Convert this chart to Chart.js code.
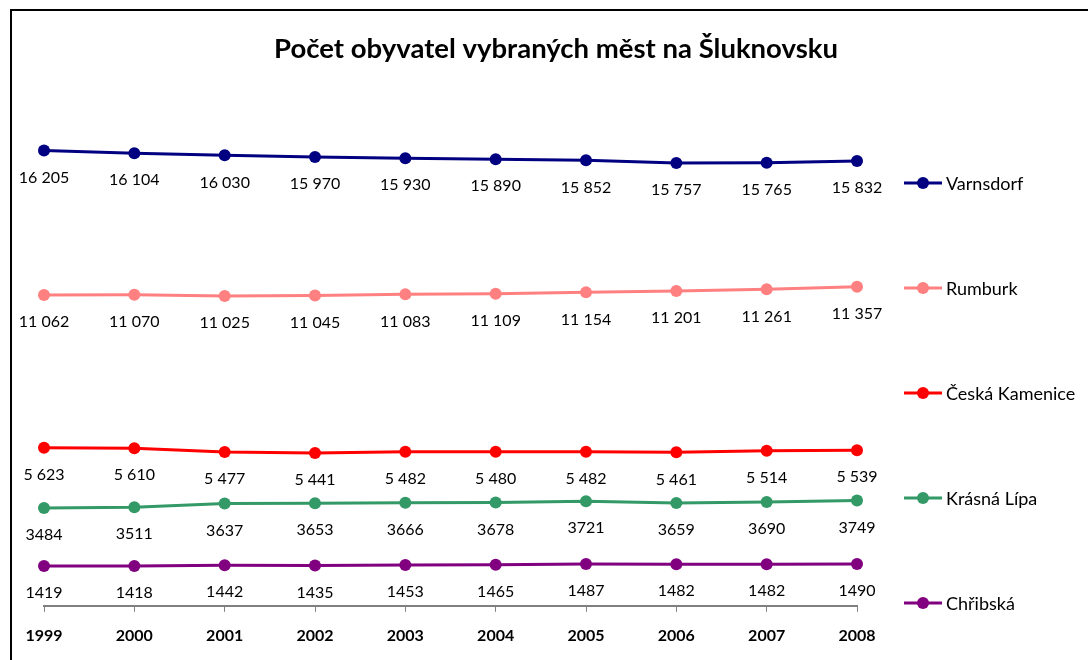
<!DOCTYPE html>
<html>
<head>
<meta charset="utf-8">
<script src="https://cdn.jsdelivr.net/npm/chart.js@4.4.0/dist/chart.umd.min.js"></script>
<style>
  html, body { margin: 0; padding: 0; background: #fff; }
  #wrap { position: relative; width: 1088px; height: 660px; }
</style>
</head>
<body>
<div id="wrap"><canvas id="chartObyvatel" width="1088" height="660"></canvas></div>
<script>
// Roky na ose x
const roky = ["1999", "2000", "2001", "2002", "2003", "2004", "2005", "2006", "2007", "2008"];

// Počty obyvatel
const varnsdorf     = [16205, 16104, 16030, 15970, 15930, 15890, 15852, 15757, 15765, 15832];
const rumburk       = [11062, 11070, 11025, 11045, 11083, 11109, 11154, 11201, 11261, 11357];
const ceskaKamenice = [5623, 5610, 5477, 5441, 5482, 5480, 5482, 5461, 5514, 5539];
const krasnaLipa    = [3484, 3511, 3637, 3653, 3666, 3678, 3721, 3659, 3690, 3749];
const chribska      = [1419, 1418, 1442, 1435, 1453, 1465, 1487, 1482, 1482, 1490];

const nazvyMest = ["Varnsdorf", "Rumburk", "Česká Kamenice", "Krásná Lípa", "Chřibská"];
const barvy = ["#000080", "#FF8080", "#FF0000", "#339966", "#800080"];
// u kterých měst jsou čísla s mezerou mezi tisíci
const sMezerou = [true, true, true, false, false];

const titulek = "Počet obyvatel vybraných měst na Šluknovsku";
const FONT = "Lato, 'Open Sans', sans-serif";

function formatuj(v, mezera) {
  if (!mezera) return String(v);
  return String(v).replace(/\B(?=(\d{3})+(?!\d))/g, " ");
}

// rámeček kolem grafu + titulek (vycentrovaný na celý rámeček, ne na plochu grafu)
const ramecek = {
  id: "ramecek",
  beforeDraw(chart) {
    const ctx = chart.ctx;
    ctx.save();
    ctx.strokeStyle = "#000";
    ctx.lineWidth = 2;
    ctx.beginPath();
    ctx.moveTo(11, 700);
    ctx.lineTo(11, 10);
    ctx.lineTo(1100, 10);
    ctx.stroke();

    ctx.font = "bold 27.5px " + FONT;
    ctx.fillStyle = "#000";
    ctx.textAlign = "center";
    ctx.textBaseline = "alphabetic";
    ctx.fillText(titulek, 556, 58);
    ctx.restore();
  }
};

// popisky hodnot pod body
const popisky = {
  id: "popisky",
  afterDatasetsDraw(chart) {
    const ctx = chart.ctx;
    ctx.save();
    ctx.font = "16px " + FONT;
    ctx.fillStyle = "#000";
    ctx.textAlign = "center";
    ctx.textBaseline = "middle";
    chart.data.datasets.forEach((ds, i) => {
      const meta = chart.getDatasetMeta(i);
      meta.data.forEach((pt, j) => {
        ctx.fillText(formatuj(ds.data[j], sMezerou[i]), pt.x, pt.y + 27);
      });
    });
    ctx.restore();
  }
};

// legenda vpravo
const legenda = {
  id: "legenda",
  afterDraw(chart) {
    const ctx = chart.ctx;
    ctx.save();
    ctx.font = "18px " + FONT;
    ctx.textBaseline = "middle";
    chart.data.datasets.forEach((ds, i) => {
      const y = 183 + i * 105;
      ctx.strokeStyle = ds.borderColor;
      ctx.lineWidth = 3;
      ctx.beginPath();
      ctx.moveTo(904, y);
      ctx.lineTo(942, y);
      ctx.stroke();
      ctx.fillStyle = ds.borderColor;
      ctx.beginPath();
      ctx.arc(923, y, 6, 0, Math.PI * 2);
      ctx.fill();
      ctx.fillStyle = "#000";
      ctx.fillText(ds.label, 946, y + 1);
    });
    ctx.restore();
  }
};

const rady = [varnsdorf, rumburk, ceskaKamenice, krasnaLipa, chribska];

new Chart(document.getElementById("chartObyvatel"), {
  type: "line",
  data: {
    labels: roky,
    datasets: rady.map((data, i) => ({
      label: nazvyMest[i],
      data: data,
      borderColor: barvy[i],
      backgroundColor: barvy[i],
      borderWidth: 3,
      pointRadius: 6,
      pointHoverRadius: 6,
      pointBorderWidth: 0,
      tension: 0
    }))
  },
  options: {
    responsive: false,
    animation: false,
    layout: { padding: { left: 44, right: 231, top: 100, bottom: 1 } },
    plugins: {
      legend: { display: false },
      tooltip: { enabled: false },
      title: { display: false }
    },
    scales: {
      x: {
        offset: false,
        grid: { display: true, drawOnChartArea: false, drawTicks: true, tickLength: 6, color: "#808080" },
        border: { display: true, color: "#808080", width: 2 },
        ticks: { color: "#000", padding: 14, font: { family: FONT, size: 16, weight: "bold" } }
      },
      y: {
        display: false,
        min: 0,
        max: 18000
      }
    }
  },
  plugins: [ramecek, popisky, legenda]
});
</script>
</body>
</html>
